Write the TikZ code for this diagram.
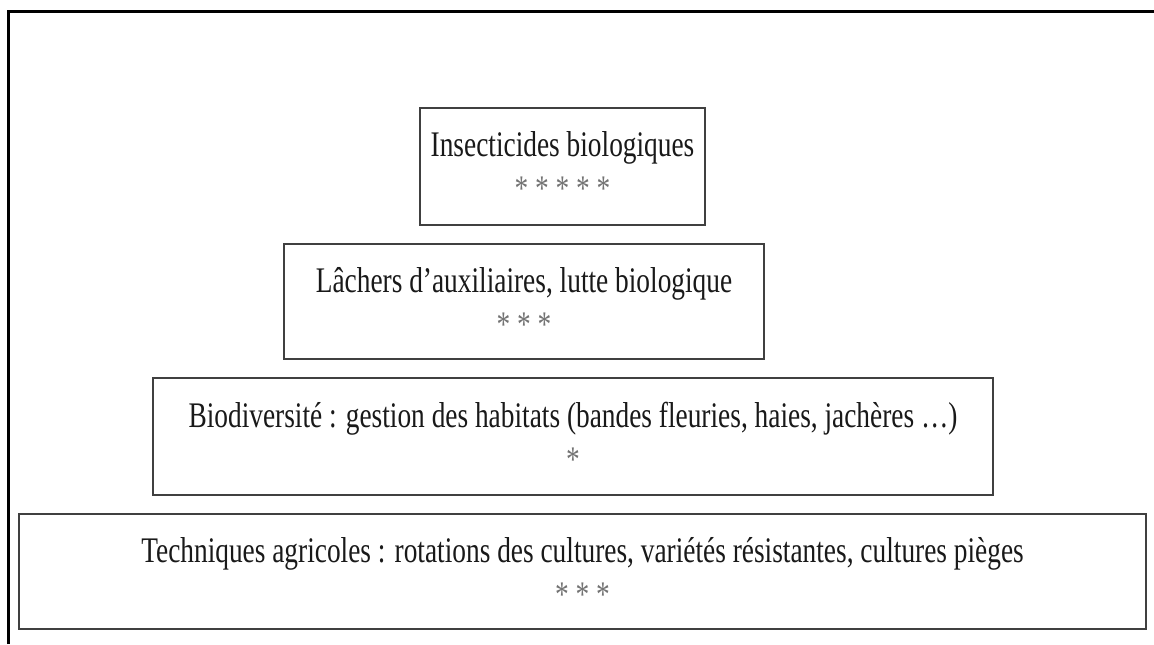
\documentclass[tikz,border=0pt]{standalone}
\usepackage{fontspec}
\setmainfont[FakeStretch=0.76]{Liberation Serif}
\usepackage{xcolor}
\usetikzlibrary{positioning}

\begin{document}
\begin{tikzpicture}[
    x=0.5pt, y=-0.5pt,
    node distance=8.5pt,
    tier/.style={draw=black!75, line width=1pt, align=center, inner sep=0pt,
        font=\fontsize{18}{22}\selectfont, text=black!90}
]
    \useasboundingbox (0,0) rectangle (1154,644);
    % frame (only top and left edges show)
    \draw[line width=1.5pt] (8,644) -- (8,11) -- (1154,11);

    \node[tier, minimum width=142.5pt, minimum height=58.5pt] (insect) at (562.5,166.5)
        {Insecticides biologiques\\ \textcolor{black!55}{* * * * *}};
    \node[tier, minimum width=240pt, minimum height=57.5pt, below=of insect, xshift=-19.25pt] (lachers)
        {Lâchers d’auxiliaires, lutte biologique\\ \textcolor{black!55}{* * *}};
    \node[tier, minimum width=420pt, minimum height=58.5pt, below=of lachers, xshift=24.5pt] (biodiv)
        {Biodiversité : gestion des habitats (bandes fleuries, haies, jachères \dots)\\ \textcolor{black!55}{*}};
    \node[tier, minimum width=563.5pt, minimum height=57.5pt, below=of biodiv, xshift=4.75pt] (techniques)
        {Techniques agricoles : rotations des cultures, variétés résistantes, cultures pièges\\ \textcolor{black!55}{* * *}};
\end{tikzpicture}
\end{document}
